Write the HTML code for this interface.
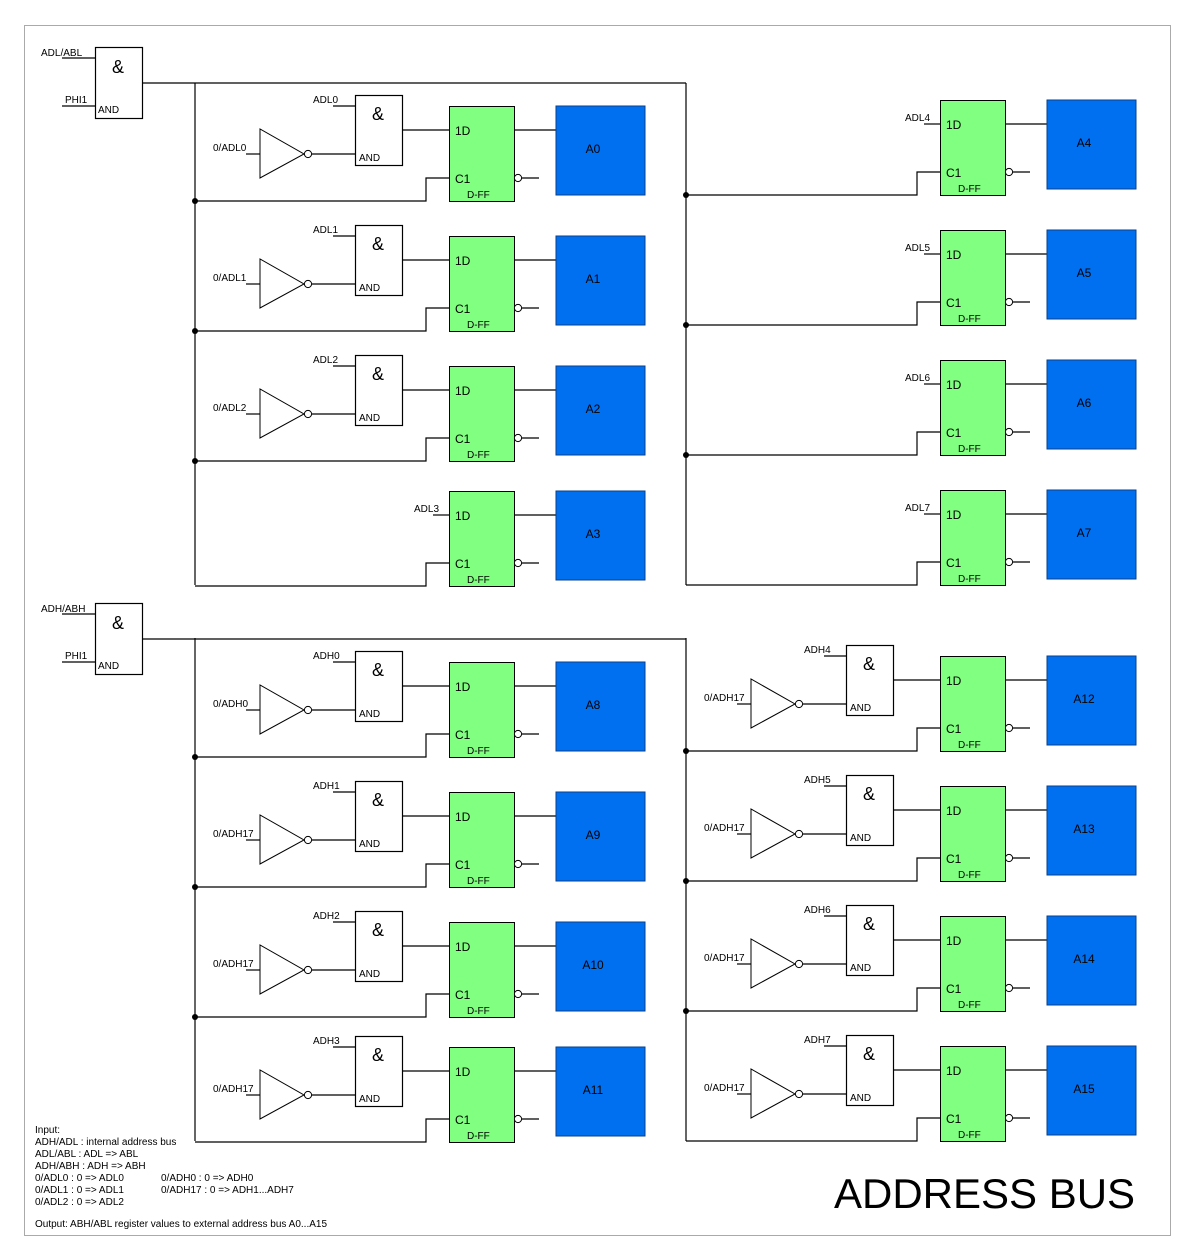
<!DOCTYPE html>
<html><head><meta charset="utf-8"><style>
html,body{margin:0;padding:0;background:#fff;}
svg{display:block;font-family:"Liberation Sans",sans-serif;}
</style></head><body>
<svg id="s" width="1193" height="1258" viewBox="0 0 1193 1258" xmlns="http://www.w3.org/2000/svg">
<rect x="24.5" y="25.5" width="1146" height="1210" fill="none" stroke="#555" stroke-width="1" stroke-dasharray="1,1"/>
<text x="834" y="1208" font-size="42" fill="#000">ADDRESS BUS</text>
<g font-size="10" fill="#000">
<text x="35" y="1133">Input:</text>
<text x="35" y="1145">ADH/ADL : internal address bus</text>
<text x="35" y="1157">ADL/ABL : ADL =&gt; ABL</text>
<text x="35" y="1169">ADH/ABH : ADH =&gt; ABH</text>
<text x="35" y="1181">0/ADL0 : 0 =&gt; ADL0</text>
<text x="35" y="1193">0/ADL1 : 0 =&gt; ADL1</text>
<text x="35" y="1205">0/ADL2 : 0 =&gt; ADL2</text>
<text x="161" y="1181">0/ADH0 : 0 =&gt; ADH0</text>
<text x="161" y="1193">0/ADH17 : 0 =&gt; ADH1...ADH7</text>
<text x="35" y="1227">Output: ABH/ABL register values to external address bus A0...A15</text>
</g>
</svg>
<script>
const svg=document.getElementById('s');
const NS='http://www.w3.org/2000/svg';
function mk(tag,name,attrs,txt){
  const el=document.createElementNS(NS,tag);
  
  
  for(const k in attrs) el.setAttribute(k,attrs[k]);
  if(txt!==undefined) el.textContent=txt;
  svg.appendChild(el);
  return el;
}
function ln(name,pts){mk('polyline',name,{points:pts.map(p=>p.join(',')).join(' '),fill:'none',stroke:'#000','stroke-width':1.2});}
function tx(name,x,y,s,size,anchor){mk('text',name,{x:x,y:y,'font-size':size||10,'text-anchor':anchor||'start'},s);}

function mainGate(y,l1){
  mk('rect','enable-and-gate',{x:95.5,y:y+0.5,width:47,height:71,fill:'#fff',stroke:'#000','stroke-width':1.2});
  tx('gate-symbol',118,y+26,'&',18,'middle');
  tx('gate-type',98,y+66,'AND',10);
  tx('gate-input-label',41,y+9,l1,10);
  ln('gate-input-wire',[[62,y+11],[95,y+11]]);
  tx('gate-input-label',65,y+56,'PHI1',10);
  ln('gate-input-wire',[[62,y+59],[95,y+59]]);
  ln('enable-bus',[[142,y+36],[686,y+36]]);
}
mainGate(47,'ADL/ABL');
mainGate(603,'ADH/ABH');

ln('left-bus-top',[[195,83],[195,585]]);
ln('right-bus-top',[[686,83],[686,585]]);
ln('left-bus-bottom',[[195,638],[195,1141]]);
ln('right-bus-bottom',[[686,638],[686,1141]]);

function cell(o){
  const fx=o.fx, fy=o.fy;
  if(o.gate){
    const gx=fx-94;
    mk('rect','and-gate',{x:gx+0.5,y:fy-10.5,width:47,height:70,fill:'#fff',stroke:'#000','stroke-width':1.2});
    tx('gate-symbol',gx+23,fy+14,'&',18,'middle');
    tx('gate-type',gx+4,fy+55,'AND',10);
    tx('data-input-label',gx-42,fy-3,o.inLabel,10);
    ln('data-input-wire',[[gx-22,fy],[gx,fy]]);
    const ix=fx-189;
    mk('polygon','inverter',{points:`${ix},${fy+23} ${ix},${fy+72} ${ix+44},${fy+48}`,fill:'#fff',stroke:'#000','stroke-width':1});
    mk('circle','inverter-bubble',{cx:ix+48,cy:fy+48,r:3.6,fill:'#fff',stroke:'#000','stroke-width':1});
    ln('inverter-output-wire',[[ix+52,fy+48],[gx,fy+48]]);
    ln('inverter-input-wire',[[ix-14,fy+48],[ix,fy+48]]);
    tx('zero-input-label',ix-47,fy+45,o.zLabel,10);
    ln('gate-output-wire',[[gx+47,fy+24],[fx,fy+24]]);
  } else {
    tx('data-input-label',fx-35,fy+21,o.inLabel,10);
    ln('data-input-wire',[[fx-16,fy+24],[fx,fy+24]]);
  }
  mk('rect','d-flip-flop',{x:fx+0.5,y:fy+0.5,width:65,height:95,fill:'#80ff80',stroke:'#000','stroke-width':1});
  tx('ff-d-label',fx+6,fy+29,'1D',12);
  tx('ff-clock-label',fx+6,fy+77,'C1',12);
  tx('ff-type',fx+18,fy+92,'D-FF',10);
  mk('circle','ff-inverted-output',{cx:fx+69,cy:fy+72,r:3.6,fill:'#fff',stroke:'#000','stroke-width':1});
  ln('ff-inverted-wire',[[fx+73,fy+72],[fx+90,fy+72]]);
  ln('ff-output-wire',[[fx+65,fy+24],[fx+107,fy+24]]);
  mk('rect','address-pin-'+o.pin.toLowerCase(),{x:fx+107,y:fy,width:89,height:89,fill:'#0070f0',stroke:'#0a3f8a','stroke-width':1});
  tx('address-pin-label',fx+144,fy+47,o.pin,12,'middle');
  const cy=fy+95;
  ln('clock-wire',[[o.bus,cy],[fx-23,cy],[fx-23,fy+72],[fx,fy+72]]);
  if(o.dot) mk('circle','junction-dot',{cx:o.bus,cy:cy,r:3,fill:'#000'});
}
const rowsLeft=[0,130,260,385];
const rowsRight=[0,130,260,390];
const pins=['A0','A1','A2','A3','A4','A5','A6','A7','A8','A9','A10','A11','A12','A13','A14','A15'];
const inLabels=['ADL0','ADL1','ADL2','ADL3','ADL4','ADL5','ADL6','ADL7','ADH0','ADH1','ADH2','ADH3','ADH4','ADH5','ADH6','ADH7'];
const zLabels=['0/ADL0','0/ADL1','0/ADL2','','','','','','0/ADH0','0/ADH17','0/ADH17','0/ADH17','0/ADH17','0/ADH17','0/ADH17','0/ADH17'];
for(let i=0;i<16;i++){
  const bottom=i>=8, right=(i%8)>=4, r=i%4;
  const fx=right?940:449;
  let fy=(bottom?662:106)+(right?rowsRight[r]-6:rowsLeft[r]);
  const gate=bottom||(!right&&r<3);
  cell({fx:fx,fy:fy,gate:gate,pin:pins[i],inLabel:inLabels[i],zLabel:zLabels[i],bus:right?686:195,dot:r<3});
}
</script>
</body></html>
